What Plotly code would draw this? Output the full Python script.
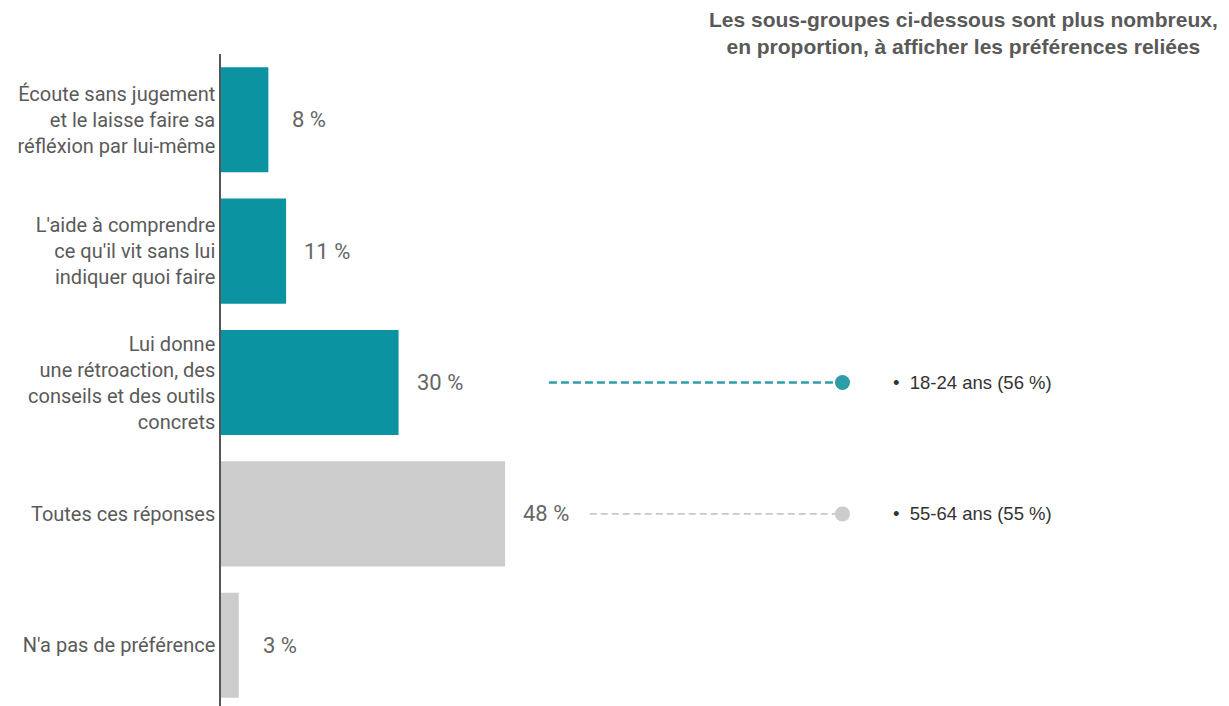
import plotly.graph_objects as go

categories = [
    "Écoute sans jugement<br>et le laisse faire sa<br>réfléxion par lui-même",
    "L'aide à comprendre<br>ce qu'il vit sans lui<br>indiquer quoi faire",
    "Lui donne<br>une rétroaction, des<br>conseils et des outils<br>concrets",
    "Toutes ces réponses",
    "N'a pas de préférence",
]
values = [8, 11, 30, 48, 3]
highlight = [True, True, True, False, False]

subgroup_category_index = [2, 3]
subgroup_labels = ["18-24 ans (56 %)", "55-64 ans (55 %)"]
subgroup_highlight = [True, False]

title_text = ("Les sous-groupes ci-dessous sont plus nombreux,<br>"
              "en proportion, à afficher les préférences reliées")

TEAL = "#0B93A1"
TEAL_DOT = "#2E9DA7"
GRAY = "#CCCCCC"

ypos = list(range(len(categories)))
colors = [TEAL if h else GRAY for h in highlight]

fig = go.Figure()
fig.add_trace(go.Bar(
    x=values, y=ypos, orientation="h",
    marker=dict(color=colors, line=dict(width=0)),
    width=0.8, hoverinfo="skip", showlegend=False,
))

for v, y in zip(values, ypos):
    fig.add_annotation(
        x=v, y=y, xref="x", yref="y", text=f"{v} %", showarrow=False,
        xanchor="center", yanchor="middle", xshift=41,
        font=dict(family="Roboto", size=22, color="#666666"),
    )

# connectors, dots and subgroup labels
line_starts = {True: 55.4, False: 62.3}
for idx, lab, hl in zip(subgroup_category_index, subgroup_labels, subgroup_highlight):
    col = TEAL_DOT if hl else GRAY
    fig.add_trace(go.Scatter(
        x=[line_starts[hl], 105], y=[idx, idx], mode="lines",
        line=dict(color=TEAL_DOT if hl else "#c8c8c8",
                  width=2.5 if hl else 1.8,
                  dash="8px,4px" if hl else "7px,4px"),
        hoverinfo="skip", showlegend=False,
    ))
    fig.add_trace(go.Scatter(
        x=[105], y=[idx], mode="markers",
        marker=dict(color=col, size=15, line=dict(width=0)),
        hoverinfo="skip", showlegend=False,
    ))
    fig.add_annotation(
        x=113.2, y=idx, xref="x", yref="y", text="•  " + lab, showarrow=False,
        xanchor="left", yanchor="middle",
        font=dict(family="Liberation Sans, Arial", size=18.5, color="#333333"),
    )

fig.add_annotation(
    x=0.737, y=1.032, xref="paper", yref="paper", text="<b>" + title_text + "</b>",
    showarrow=False, xanchor="center", yanchor="middle", align="center",
    font=dict(family="Liberation Sans, Arial", size=21, color="#595959"),
)

fig.update_layout(
    width=1221, height=698,
    margin=dict(l=213, r=0, t=46, b=0),
    paper_bgcolor="white", plot_bgcolor="white",
    bargap=0.2,
    xaxis=dict(range=[0, 170.3], visible=False, fixedrange=True),
    yaxis=dict(
        range=[4.462, -0.5], tickvals=ypos, ticktext=categories,
        showline=True, linecolor="#555555", linewidth=1.5,
        ticks="outside", ticklen=0, tickcolor="rgba(0,0,0,0)",
        showgrid=False, zeroline=False,
        tickfont=dict(family="Roboto", size=20, color="#5a5a5a"),
    ),
    font=dict(family="Roboto"),
)

fig.write_html("out.html")
